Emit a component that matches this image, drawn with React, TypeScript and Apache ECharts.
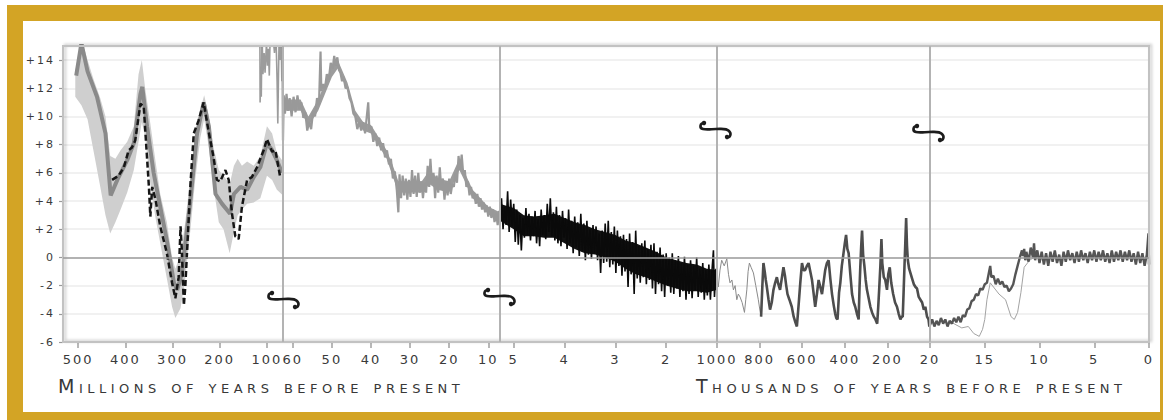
import React, { useEffect, useRef } from "react";
import * as echarts from "echarts";

// ---------------- DATA ----------------
const yTicks = [-6, -4, -2, 0, 2, 4, 6, 8, 10, 12, 14];
const p1Ticks = [500, 400, 300, 200, 100];
const p2Ticks = [60, 50, 40, 30, 20, 10];
const p3Ticks = [5, 4, 3, 2];
const p4Ticks = [1000, 800, 600, 400, 200];
const p5Ticks = [20, 15, 10, 5, 0];

// Panel 1 (millions of years): uncertainty band [Ma, lower, upper]
const p1Band = [
  [506, 11.4, 13.2], [493, 10.8, 15.5], [480, 9.8, 14.0], [467, 7.5, 12.6], [453, 5.0, 11.3],
  [442, 3.0, 10.0], [432, 1.7, 7.2], [421, 2.5, 7.0], [410, 3.4, 7.6], [396, 4.6, 8.2],
  [382, 6.2, 9.3], [372, 8.2, 13.0], [365, 9.6, 14.0], [358, 8.5, 12.0], [347, 5.2, 9.5],
  [336, 2.8, 6.8], [326, 1.0, 4.5], [312, -1.5, 2.5], [301, -3.5, 0.0], [294, -4.3, -0.8],
  [283, -3.6, 0.2], [273, -1.5, 2.5], [262, 2.0, 5.8], [252, 5.5, 8.8], [241, 8.5, 10.5],
  [233, 9.8, 11.5], [224, 8.0, 10.2], [213, 5.0, 7.8], [202, 2.5, 6.2], [192, 2.0, 5.8],
  [179, 0.3, 5.2], [170, 1.8, 6.5], [162, 3.0, 7.0], [153, 3.4, 6.5], [142, 3.8, 6.8],
  [128, 3.9, 6.5], [114, 4.2, 7.2], [100, 5.8, 9.3], [89, 5.5, 8.8], [79, 4.8, 7.4], [66, 4.4, 6.8],
];
// Panel 1 mean curve (solid gray)
const p1Mean = [
  [504, 12.9], [493, 15.2], [480, 13.2], [460, 11.4], [442, 8.8], [435, 6.0], [431, 4.4],
  [417, 5.5], [396, 6.9], [382, 8.1], [368, 11.6], [364, 12.1], [354, 9.3], [340, 6.0],
  [329, 4.1], [312, 1.2], [297, -1.8], [290, -2.3], [280, -1.1], [262, 4.1], [248, 8.8],
  [234, 11.0], [223, 9.3], [209, 4.5], [195, 3.8], [178, 3.1], [170, 4.5], [156, 5.0],
  [142, 4.8], [128, 5.7], [114, 6.4], [100, 8.1], [89, 7.6], [79, 6.9], [68, 6.0],
];
// Panel 1 dashed black curve
const p1Dashed = [
  [428, 5.5], [414, 5.8], [403, 6.4], [393, 7.6], [386, 7.8], [379, 8.3], [368, 10.9],
  [361, 10.7], [350, 5.0], [347, 2.9], [343, 5.0], [336, 4.1], [326, 2.2], [312, 0.3],
  [301, -1.8], [294, -2.9], [287, -1.4], [283, 2.2], [280, 0.3], [276, -3.4], [273, -2.1],
  [262, 5.2], [255, 8.8], [245, 9.7], [234, 11.0], [224, 9.0], [213, 7.1], [206, 5.5],
  [199, 5.4], [188, 6.2], [181, 5.5], [174, 3.1], [167, 1.5], [160, 1.3], [153, 3.6],
  [142, 5.5], [132, 5.7], [121, 6.4], [107, 7.6], [100, 8.4], [89, 7.5], [82, 7.6], [72, 5.7],
];
// Panel 1: early Cenozoic record overlapping the right edge
const p1Overlap = [
  [115, 16], [114.5, 11.0], [113, 13.2], [112, 11.4], [110.5, 16], [108.5, 13.0], [106, 14.5],
  [104, 13.1], [101, 15.2], [99, 13.6], [97, 14.8], [95, 12.9], [93, 16], [88, 16], [84, 14.5],
  [81, 16], [78.5, 12.5], [77, 9.5], [75.5, 13.0], [74, 16], [72, 14.0], [70, 16], [68.5, 12.5],
  [67.5, 16], [66.5, 8.3], [66, 11.0],
];
// Panel 2 (millions of years): Cenozoic gray record and its dense core [Ma, lower, upper]
const p2Cenozoic = [
  [62.6, 16.0], [62.5, 8.3], [62.3, 11.5], [62.0, 10.2], [61.6, 11.6], [61.2, 10.4], [60.8, 11.3],
  [60.3, 10.0], [59.8, 11.4], [59.3, 10.3], [58.8, 11.5], [58.3, 10.5], [57.8, 11.0], [57.3, 9.9],
  [56.8, 10.3], [56.3, 9.0], [55.8, 9.6], [55.3, 9.1], [54.8, 10.4], [54.3, 10.0], [53.8, 11.3],
  [53.3, 10.8], [52.9, 14.6], [52.7, 11.8], [52.3, 12.3], [51.8, 11.9], [51.3, 13.0], [50.8, 12.6],
  [50.3, 13.8], [49.8, 13.4], [49.4, 14.3], [49.0, 13.6], [48.6, 14.2], [48.2, 13.3], [47.8, 13.1],
  [47.4, 12.5], [47.0, 12.8], [46.5, 12.0], [46.0, 12.1], [45.5, 11.3], [45.0, 11.0], [44.5, 10.2],
  [44.0, 10.0], [43.5, 9.1], [43.0, 9.6], [42.5, 9.0], [42.0, 9.6], [41.5, 8.8], [41.0, 10.2],
  [40.7, 11.0], [40.4, 9.0], [39.9, 9.3], [39.4, 8.2], [38.9, 8.8], [38.4, 7.9], [37.9, 8.5],
  [37.4, 7.6], [36.9, 8.1], [36.4, 7.1], [35.9, 7.6], [35.4, 6.6], [34.9, 7.0], [34.4, 5.6],
  [33.9, 6.1], [33.4, 4.8], [33.0, 3.2], [32.7, 5.9], [32.3, 4.2], [31.9, 5.8], [31.5, 4.4],
  [31.1, 5.6], [30.7, 4.1], [30.3, 5.5], [29.9, 4.3], [29.5, 6.2], [29.1, 4.5], [28.7, 5.8],
  [28.3, 4.3], [27.9, 6.0], [27.5, 4.6], [27.1, 5.4], [26.7, 4.2], [26.3, 5.3], [25.9, 4.6],
  [25.5, 6.5], [25.1, 5.0], [24.8, 7.0], [24.4, 5.2], [24.0, 6.0], [23.6, 4.2], [23.2, 5.8],
  [22.8, 4.6], [22.4, 6.4], [22.0, 4.8], [21.6, 5.6], [21.2, 4.1], [20.8, 5.4], [20.4, 4.4],
  [20.0, 5.6], [19.6, 4.5], [19.2, 5.2], [18.8, 5.0], [18.4, 6.0], [18.0, 5.3], [17.6, 7.2],
  [17.2, 6.2], [16.8, 7.3], [16.4, 5.9], [16.0, 6.2], [15.6, 5.0], [15.2, 5.4], [14.8, 4.4],
  [14.4, 5.0], [14.0, 4.2], [13.6, 4.6], [13.2, 3.8], [12.8, 4.5], [12.4, 3.6], [12.0, 4.2],
  [11.6, 3.4], [11.2, 3.9], [10.8, 3.2], [10.4, 3.7], [10.0, 2.9], [9.6, 3.6], [9.2, 2.8],
  [8.8, 3.4], [8.4, 2.5], [8.0, 3.2], [7.6, 2.3], [7.2, 3.3], [7.0, 2.9],
];
const p2Core = [
  [62.4, 10.4, 11.2], [58, 10.4, 11.2], [56, 9.3, 10.0], [53.5, 10.4, 11.2], [50, 12.8, 13.6],
  [48.5, 13.4, 14.0], [46, 11.8, 12.4], [44, 9.8, 10.4], [42, 9.0, 9.6], [40, 8.8, 9.4],
  [38, 7.9, 8.5], [36, 7.0, 7.6], [34.5, 5.8, 6.6], [33, 4.6, 5.4], [30, 4.6, 5.4], [27, 4.6, 5.4],
  [25, 5.2, 6.2], [23, 4.8, 5.6], [20, 4.6, 5.4], [17.4, 6.2, 7.0], [16, 5.4, 6.0], [14, 4.2, 4.8],
  [12, 3.6, 4.2], [10, 3.1, 3.6], [7, 2.7, 3.2],
];
// Panel 3 (millions of years): black Pliocene-Pleistocene record and its dense core
const p3Black = [
  [5.27, 2.5], [5.24, 4.2], [5.21, 2.0], [5.18, 3.6], [5.15, 2.3], [5.12, 4.7], [5.09, 1.8],
  [5.06, 4.1], [5.03, 2.2], [5.0, 3.8], [4.97, 1.1], [4.94, 3.4], [4.91, 0.9], [4.88, 3.0],
  [4.85, 0.5], [4.82, 2.8], [4.79, 1.4], [4.76, 3.5], [4.73, 1.6], [4.7, 3.1], [4.67, 1.2],
  [4.64, 2.9], [4.61, 1.5], [4.58, 3.3], [4.55, 1.0], [4.52, 2.7], [4.49, 0.8], [4.46, 3.4],
  [4.43, 1.6], [4.4, 3.0], [4.37, 1.3], [4.34, 3.8], [4.31, 1.8], [4.28, 4.2], [4.25, 1.5],
  [4.22, 3.2], [4.19, 1.2], [4.16, 3.6], [4.13, 1.0], [4.1, 3.0], [4.07, 0.8], [4.04, 3.3],
  [4.01, 1.4], [3.98, 2.8], [3.95, 0.6], [3.92, 3.4], [3.89, 1.0], [3.86, 2.6], [3.83, 0.3],
  [3.8, 2.9], [3.77, 0.7], [3.74, 2.5], [3.71, 0.1], [3.68, 3.1], [3.65, 0.4], [3.62, 2.4],
  [3.59, -0.2], [3.56, 2.6], [3.53, 0.2], [3.5, 2.0], [3.47, -0.1], [3.44, 2.3], [3.41, 0.3],
  [3.38, 2.2], [3.35, -0.2], [3.32, 1.7], [3.29, -1.1], [3.26, 1.9], [3.23, -0.4], [3.2, 2.4],
  [3.17, -0.3], [3.14, 2.6], [3.11, -0.7], [3.08, 1.8], [3.05, -0.5], [3.02, 2.2], [2.99, -1.1],
  [2.96, 1.9], [2.93, -0.6], [2.9, 1.5], [2.87, -1.3], [2.84, 1.6], [2.81, -1.0], [2.78, 1.3],
  [2.75, -2.1], [2.72, 1.7], [2.69, -1.2], [2.66, 1.1], [2.63, -2.6], [2.6, 1.9], [2.57, -1.5],
  [2.54, 0.8], [2.51, -1.8], [2.48, 1.0], [2.45, -1.4], [2.42, 1.2], [2.39, -1.9], [2.36, 0.6],
  [2.33, -1.6], [2.3, 0.9], [2.27, -2.2], [2.24, 1.0], [2.21, -2.6], [2.18, 0.4], [2.15, -1.9],
  [2.12, 0.7], [2.09, -2.4], [2.06, 0.2], [2.03, -2.8], [2.0, 0.3], [1.97, -2.0], [1.94, 0.0],
  [1.91, -2.5], [1.88, 0.3], [1.85, -2.6], [1.82, -0.2], [1.79, -2.2], [1.76, 0.1], [1.73, -2.8],
  [1.7, -0.4], [1.67, -2.4], [1.64, 0.05], [1.61, -3.0], [1.58, -0.5], [1.55, -2.6], [1.52, -0.2],
  [1.49, -2.9], [1.46, -0.6], [1.43, -2.3], [1.4, 0.0], [1.37, -2.8], [1.34, -0.8], [1.31, -2.5],
  [1.28, -0.4], [1.25, -3.0], [1.22, -0.9], [1.19, -2.7], [1.16, -0.5], [1.13, -3.0], [1.1, -1.0],
  [1.07, 0.5], [1.05, -2.8], [1.02, -0.8], [1.0, -2.4],
];
const p3Core = [
  [5.27, 2.6, 3.8], [5.0, 2.0, 3.5], [4.8, 1.5, 3.0], [4.6, 1.5, 2.9], [4.4, 1.4, 3.0],
  [4.2, 1.4, 3.1], [4.0, 1.0, 2.8], [3.8, 0.6, 2.5], [3.6, 0.3, 2.3], [3.4, 0.2, 2.0],
  [3.2, 0.0, 1.8], [3.0, -0.3, 1.6], [2.8, -0.8, 1.2], [2.6, -1.2, 1.0], [2.4, -1.4, 0.7],
  [2.2, -1.7, 0.4], [2.0, -2.0, 0.0], [1.8, -2.2, -0.2], [1.6, -2.4, -0.4], [1.4, -2.4, -0.5],
  [1.2, -2.5, -0.8], [1.0, -2.3, -0.9],
];
// Panel 4 (thousands of years): thin early part and darker glacial cycles
const p4Early = [
  [1000, -1.5], [994, -2.1], [986, -0.9], [978, -0.2], [966, -0.6], [954, -0.1], [946, -1.2],
  [939, -1.8], [930, -1.6], [923, -2.3], [915, -2.0], [907, -3.0], [900, -2.6], [892, -2.8],
  [882, -3.2], [871, -3.9], [865, -3.0], [860, -2.3], [854, -1.0], [848, -0.4], [840, -0.7],
  [829, -1.1], [818, -2.0], [806, -3.0], [798, -3.8], [793, -4.2],
];
const p4Late = [
  [793, -4.2], [787, -2.0], [782, -0.4], [776, -1.0], [771, -1.6], [766, -2.1], [758, -3.0],
  [751, -3.7], [743, -3.2], [735, -2.3], [727, -1.8], [719, -1.4], [712, -1.9], [704, -2.3],
  [696, -1.5], [688, -0.7], [681, -1.3], [675, -2.0], [669, -2.6], [660, -3.0], [649, -3.5],
  [640, -4.2], [632, -4.6], [625, -4.9], [617, -3.4], [609, -1.8], [601, -0.4], [594, -0.9],
  [586, -0.9], [578, -0.6], [570, -0.4], [562, -1.0], [554, -1.6], [546, -2.6], [539, -3.5],
  [531, -2.6], [523, -1.6], [515, -2.1], [507, -2.6], [500, -1.8], [492, -0.9], [484, -0.4],
  [476, -0.2], [468, -1.5], [460, -2.6], [452, -3.4], [445, -4.0], [440, -4.3], [434, -4.4],
  [427, -2.5], [421, -1.8], [414, -0.6], [406, 0.3], [400, 1.0], [394, 1.6], [388, 0.6],
  [382, 0.3], [374, -1.2], [366, -2.6], [358, -3.2], [351, -3.5], [343, -4.0], [335, -4.4],
  [331, -2.2], [327, -0.6], [323, 0.8], [319, 1.9], [314, 0.2], [308, -0.6], [302, -1.6],
  [296, -2.3], [288, -2.9], [280, -3.5], [272, -3.9], [264, -4.2], [256, -4.4], [248, -4.7],
  [243, -3.5], [238, -2.1], [233, -0.6], [228, 1.3], [224, -0.4], [217, -1.4], [210, -1.6],
  [202, -2.3], [196, -1.2], [189, -0.7], [182, -1.8], [173, -2.6], [164, -3.2], [155, -3.5],
  [147, -4.0], [139, -4.4], [133, -4.2], [128, -4.2], [124, -2.5], [120, -0.7], [116, 1.0],
  [112, 2.8], [108, 0.8], [104, -0.2], [98, -0.8], [92, -1.1], [84, -1.5], [76, -1.9],
  [68, -2.1], [61, -2.2], [53, -2.8], [45, -3.0], [37, -3.2], [29, -3.7], [22, -3.5],
  [14, -4.2], [7, -4.4], [3, -4.9], [0, -4.8],
];
// Panel 5 (thousands of years): main record and a second thin record
const p5Main = [
  [20.0, -4.8], [19.8, -4.4], [19.6, -4.9], [19.4, -4.5], [19.2, -4.8], [19.0, -4.3], [18.8, -4.7],
  [18.6, -4.4], [18.4, -4.9], [18.2, -4.5], [18.0, -4.7], [17.8, -4.3], [17.6, -4.6], [17.4, -4.2],
  [17.2, -4.6], [17.0, -4.1], [16.8, -4.2], [16.6, -3.7], [16.4, -3.6], [16.2, -3.1], [16.0, -3.0],
  [15.8, -2.6], [15.6, -2.7], [15.4, -2.2], [15.2, -2.3], [15.0, -1.9], [14.8, -1.8], [14.6, -1.0],
  [14.5, -0.6], [14.4, -1.4], [14.2, -1.3], [14.0, -1.9], [13.8, -1.5], [13.6, -1.9], [13.4, -1.7],
  [13.2, -2.1], [13.0, -2.0], [12.8, -2.4], [12.6, -2.2], [12.4, -1.9], [12.2, -1.2], [12.0, -0.6],
  [11.8, 0.0], [11.6, 0.5], [11.5, 0.1], [11.4, 0.6], [11.3, -0.2], [11.2, 0.4], [11.0, -0.3],
  [10.8, 0.7], [10.6, 0.0], [10.5, 1.0], [10.4, -0.2], [10.2, 0.5], [10.0, -0.4], [9.8, 0.4],
  [9.6, -0.5], [9.4, 0.3], [9.2, -0.6], [9.0, 0.4], [8.8, -0.3], [8.6, 0.5], [8.4, -0.4],
  [8.2, 0.2], [8.0, -0.6], [7.8, 0.4], [7.6, -0.3], [7.4, 0.5], [7.2, -0.2], [7.0, 0.3],
  [6.8, -0.4], [6.6, 0.4], [6.4, -0.3], [6.2, 0.5], [6.0, -0.2], [5.8, 0.3], [5.6, -0.4],
  [5.4, 0.4], [5.2, -0.2], [5.0, 0.5], [4.8, -0.3], [4.6, 0.4], [4.4, -0.2], [4.2, 0.5],
  [4.0, -0.3], [3.8, 0.3], [3.6, -0.4], [3.4, 0.5], [3.2, -0.3], [3.0, 0.4], [2.8, -0.2],
  [2.6, 0.5], [2.4, -0.3], [2.2, 0.4], [2.0, -0.2], [1.8, 0.5], [1.6, -0.3], [1.4, 0.3],
  [1.2, -0.5], [1.0, 0.4], [0.8, -0.4], [0.6, 0.3], [0.4, -0.6], [0.2, 0.2], [0.05, 1.7], [0.0, -0.5],
];
const p5Alt = [
  [18.3, -4.5], [17.1, -5.0], [16.5, -4.9], [16.0, -5.4], [15.5, -5.6], [15.2, -5.1], [15.0, -4.4],
  [14.8, -3.0], [14.5, -1.8], [14.2, -2.1], [13.7, -2.6], [13.1, -3.0], [12.6, -4.2], [12.3, -4.4],
  [12.0, -3.9], [11.7, -2.5], [11.4, -0.7], [10.9, -0.2], [10.5, 0.0],
];

// ---------------- LAYOUT / STYLE ----------------
const GOLD = "#D3A425";
const BOUNDS = [63, 283, 500, 717, 930, 1149];
const TOP = 46;
const HEIGHT = 296;
const X_RANGES = [[66, 532], [7, 62.5], [1, 5.27], [0, 1000], [0, 20]];
const TICKS = [p1Ticks, p2Ticks, p3Ticks, p4Ticks, p5Ticks];
const BREAKS = [[284, 300], [500, 297], [716, 130], [929, 133]];

const css = `
.paleo svg text { letter-spacing: 2px; }
.paleo svg text[style*="Tahoma"] { letter-spacing: 2px; }
.paleo svg text[style*="Verdana"] { letter-spacing: 4.5px; font-variant: small-caps !important; }
`;

const BREAK_PATH = "M -12 -7 C -16 -7 -17 -2 -13 -1 C -9 0 -4 -1 0 -1 C 6 -1 10 -2 13 1 C 16 4 14 8 11 7";
echarts.graphic.registerShape("breakMark", echarts.graphic.extendPath(BREAK_PATH, {}));

function lineSeries(gi: number, data: number[][], color: string, width: number, type: any = "solid") {
  return {
    type: "line",
    xAxisIndex: gi,
    yAxisIndex: gi,
    data,
    symbol: "none",
    silent: true,
    clip: true,
    lineStyle: { color, width, type },
  };
}

// Filled band between a lower and an upper curve, through the grid's own scales.
function bandSeries(gi: number, band: number[][], color: string) {
  return {
    type: "custom",
    xAxisIndex: gi,
    yAxisIndex: gi,
    silent: true,
    clip: true,
    data: [[band[0][0], band[0][1]]],
    renderItem: (params: any, api: any) => {
      const upper = band.map((d) => api.coord([d[0], d[2]]));
      const lower = band.slice().reverse().map((d) => api.coord([d[0], d[1]]));
      const cs = params.coordSys;
      return {
        type: "polygon",
        shape: { points: upper.concat(lower) },
        style: { fill: color },
        clipPath: { type: "rect", shape: { x: cs.x, y: cs.y, width: cs.width, height: cs.height } },
      };
    },
  };
}

function buildOption() {
  const grids: any[] = BOUNDS.slice(0, 5).map((l, i) => ({
    left: l,
    top: TOP,
    width: BOUNDS[i + 1] - l,
    height: HEIGHT,
    containLabel: false,
    outerBoundsMode: "none",
  }));
  grids.push({ left: BOUNDS[0], top: TOP, width: BOUNDS[5] - BOUNDS[0], height: HEIGHT, containLabel: false, outerBoundsMode: "none" });

  const xAxes: any[] = X_RANGES.map((r, i) => ({
    type: "value",
    gridIndex: i,
    min: r[0],
    max: r[1],
    inverse: true,
    axisLine: { show: true, onZero: false, lineStyle: { color: "#a8a8a8", width: 1.5 } },
    axisTick: { show: true, customValues: TICKS[i], length: 6, inside: false, lineStyle: { color: "#a0a0a0", width: 1.5 } },
    axisLabel: {
      show: true,
      customValues: TICKS[i],
      margin: 11,
      color: "#3a3a3a",
      fontSize: 13,
      fontFamily: "DejaVu Sans",
      formatter: (v: number) => String(v),
      showMinLabel: true,
      showMaxLabel: true,
    },
    splitLine: { show: false },
  }));
  xAxes.push({ type: "value", gridIndex: 5, min: 0, max: 1, show: false });

  const yAxes: any[] = X_RANGES.map((_, i) => ({ type: "value", gridIndex: i, min: -6, max: 15, show: false }));
  yAxes.push({
    type: "value",
    gridIndex: 5,
    min: -6,
    max: 15,
    interval: 2,
    axisLine: { show: true, onZero: false, lineStyle: { color: "#b5b5b5", width: 2 } },
    axisTick: { show: true, customValues: yTicks, length: 4, lineStyle: { color: "#9a9a9a", width: 1.2 } },
    axisLabel: {
      customValues: yTicks,
      margin: 8,
      color: "#3a3a3a",
      fontSize: 11,
      fontFamily: "Tahoma, DejaVu Sans",
      formatter: (v: number) => (v > 0 ? "+" + v : String(v)),
    },
    splitLine: { show: true, lineStyle: { color: "#ececec", width: 1.5 } },
  });

  const series: any[] = [
    {
      type: "line",
      xAxisIndex: 5,
      yAxisIndex: 5,
      data: [],
      silent: true,
      z: 1,
      markLine: {
        silent: true,
        symbol: "none",
        label: { show: false },
        lineStyle: { color: "#9c9c9c", width: 1.5, type: "solid" },
        data: [{ yAxis: 0 }],
      },
    },
    bandSeries(0, p1Band, "#cfcfcf"),
    lineSeries(0, p1Overlap, "#9c9c9c", 1.6),
    lineSeries(0, p1Mean, "#8a8a8a", 4),
    lineSeries(0, p1Dashed, "#161616", 2.5, [6, 3]),
    bandSeries(1, p2Core, "#9c9c9c"),
    lineSeries(1, p2Cenozoic, "#999999", 2.2),
    bandSeries(2, p3Core, "#111111"),
    lineSeries(2, p3Black, "#0a0a0a", 1.6),
    lineSeries(3, p4Early, "#8a8a8a", 1),
    lineSeries(3, p4Late, "#4d4d4d", 2.6),
    lineSeries(4, p5Alt, "#a3a3a3", 1),
    lineSeries(4, p5Main, "#555555", 2.4),
  ];

  const graphic: any[] = [
    { type: "rect", silent: true, z: 0, shape: { x: 7, y: 5, width: 16, height: 415 }, style: { fill: GOLD } },
    { type: "rect", silent: true, z: 0, shape: { x: 7, y: 5, width: 1156, height: 16 }, style: { fill: GOLD } },
    { type: "rect", silent: true, z: 0, shape: { x: 1160, y: 5, width: 3, height: 415 }, style: { fill: GOLD } },
    { type: "rect", silent: true, z: 0, shape: { x: 7, y: 412, width: 1156, height: 8 }, style: { fill: GOLD } },
    {
      type: "rect", silent: true, z: 5,
      shape: { x: BOUNDS[0], y: TOP, width: BOUNDS[5] - BOUNDS[0], height: HEIGHT },
      style: { fill: "none", stroke: "#c2c2c2", lineWidth: 2, shadowBlur: 3, shadowColor: "rgba(0,0,0,0.22)", shadowOffsetX: 2, shadowOffsetY: -1 },
    },
    ...BOUNDS.slice(1, 5).map((x) => ({
      type: "line", silent: true, z: 5,
      shape: { x1: x, y1: TOP, x2: x, y2: TOP + HEIGHT },
      style: { stroke: "#b3b3b3", lineWidth: 2 },
    })),
    ...BREAKS.map(([cx, cy]) => ({
      type: "group", x: cx, y: cy, z: 10, silent: true,
      children: [
        { type: "breakMark", z: 10, style: { fill: "none", stroke: "#1c1c1c", lineWidth: 2.6, lineCap: "round" } },
        { type: "circle", z: 10, shape: { cx: -12, cy: -7, r: 2.2 }, style: { fill: "#1c1c1c" } },
        { type: "circle", z: 10, shape: { cx: 11, cy: 7, r: 2.2 }, style: { fill: "#1c1c1c" } },
      ],
    })),
    {
      type: "text", x: 58, y: 386, z: 10, silent: true,
      style: { text: "Millions of years before present", fontSize: 19, fontFamily: "Verdana, DejaVu Sans", fill: "#383838", verticalAlign: "middle", align: "left" },
    },
    {
      type: "text", x: 696, y: 386, z: 10, silent: true,
      style: { text: "Thousands of years before present", fontSize: 19, fontFamily: "Verdana, DejaVu Sans", fill: "#383838", verticalAlign: "middle", align: "left" },
    },
  ];

  return {
    animation: false,
    backgroundColor: "#ffffff",
    grid: grids,
    xAxis: xAxes,
    yAxis: yAxes,
    series,
    graphic,
  };
}

export default function App() {
  const ref = useRef<HTMLDivElement>(null);
  useEffect(() => {
    if (!ref.current) return;
    const chart = echarts.init(ref.current, null, { renderer: "svg" });
    chart.setOption(buildOption() as any);
    return () => chart.dispose();
  }, []);
  return (
    <div className="paleo" style={{ position: "fixed", left: 0, top: 0, width: 1163, height: 420, background: "#fff" }}>
      <style>{css}</style>
      <div ref={ref} style={{ width: 1163, height: 420 }} />
    </div>
  );
}
